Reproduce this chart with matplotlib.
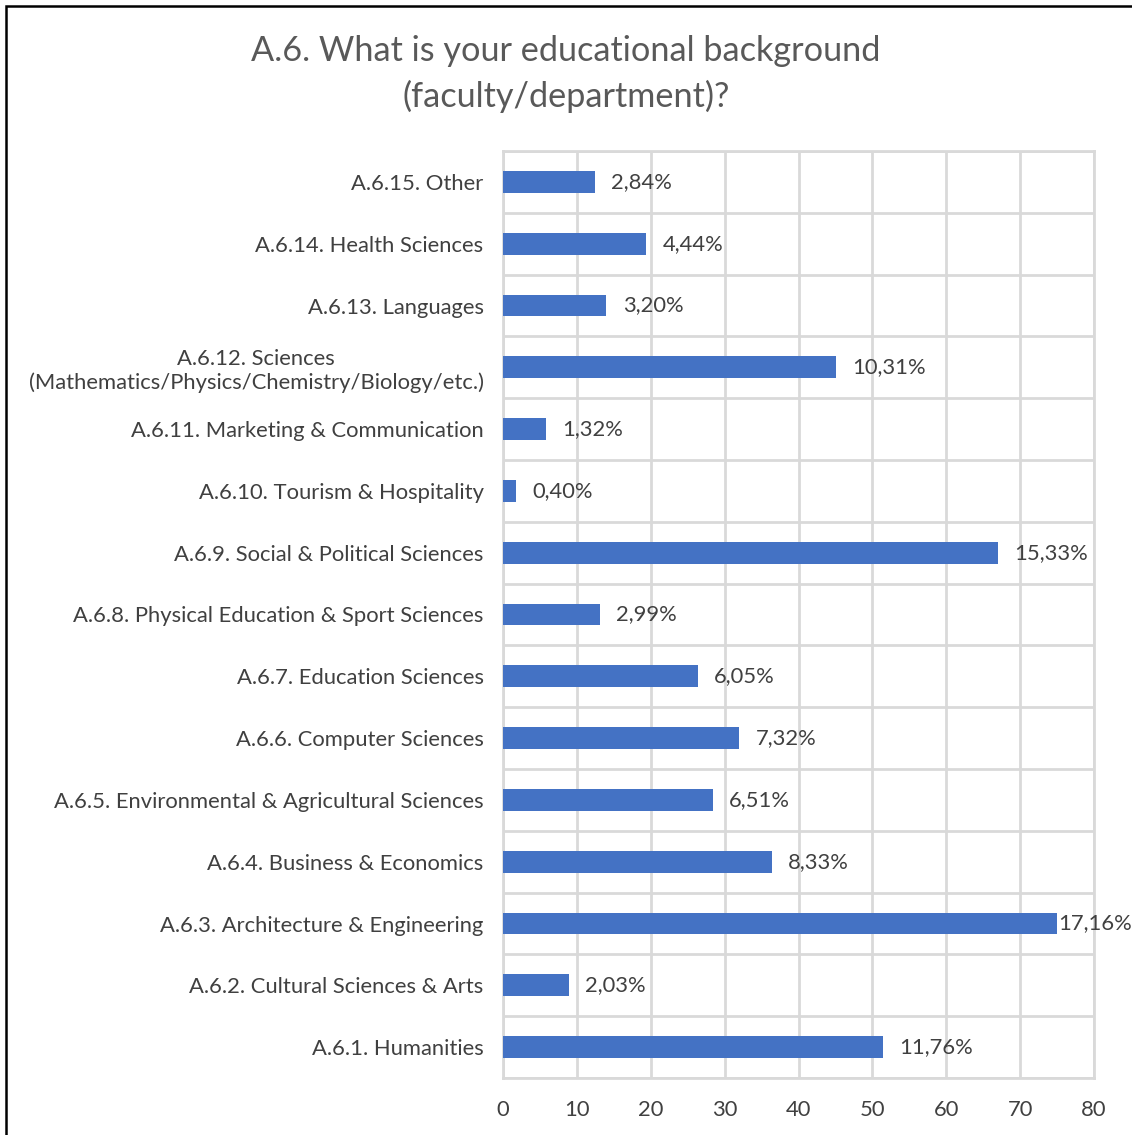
import matplotlib.pyplot as plt
import numpy as np
from matplotlib.patches import Rectangle

categories = [
    "A.6.1. Humanities",
    "A.6.2. Cultural Sciences & Arts",
    "A.6.3. Architecture & Engineering",
    "A.6.4. Business & Economics",
    "A.6.5. Environmental & Agricultural Sciences",
    "A.6.6. Computer Sciences",
    "A.6.7. Education Sciences",
    "A.6.8. Physical Education & Sport Sciences",
    "A.6.9. Social & Political Sciences",
    "A.6.10. Tourism & Hospitality",
    "A.6.11. Marketing & Communication",
    "A.6.12. Sciences\n(Mathematics/Physics/Chemistry/Biology/etc.)",
    "A.6.13. Languages",
    "A.6.14. Health Sciences",
    "A.6.15. Other",
]
counts = [51.4, 8.9, 75.0, 36.4, 28.4, 32.0, 26.4, 13.1, 67.0, 1.75, 5.8, 45.1, 14.0, 19.4, 12.4]
pct_labels = ["11,76%", "2,03%", "17,16%", "8,33%", "6,51%", "7,32%", "6,05%", "2,99%",
              "15,33%", "0,40%", "1,32%", "10,31%", "3,20%", "4,44%", "2,84%"]

plt.rcParams["font.family"] = ["Lato", "DejaVu Sans"]
text_col = "#404040"
grid_col = "#d9d9d9"
fs = 15.8

fig = plt.figure(figsize=(11.32, 11.35), dpi=100)
ax = fig.add_axes([503 / 1132, 1 - 1078 / 1135, 591 / 1132, 927 / 1135])

y = np.arange(len(categories))
ax.barh(y, counts, height=0.35, color="#4472C4", zorder=3)

for yi, v, lab in zip(y, counts, pct_labels):
    # Excel squeezes the last label against the bar when it runs out of room
    off = 0.2 if v > 70 else 2.2
    ax.text(v + off, yi, lab, va="center", ha="left", fontsize=fs, color=text_col, zorder=4)

ax.set_xlim(0, 80)
ax.set_ylim(-0.5, len(categories) - 0.5)
ax.set_xticks(np.arange(0, 81, 10))
ax.set_yticks(y)
ax.set_yticklabels(categories, fontsize=fs, color=text_col, ha="right", multialignment="center")
ax.set_yticks(np.arange(-0.5, len(categories), 1), minor=True)
ax.tick_params(axis="y", which="both", length=0, pad=14)
ax.tick_params(axis="x", length=0, labelsize=fs, labelcolor=text_col, pad=16)
ax.grid(axis="x", which="major", color=grid_col, linewidth=2, zorder=0)
ax.grid(axis="y", which="minor", color=grid_col, linewidth=2, zorder=0)
for s in ax.spines.values():
    s.set_color(grid_col)
    s.set_linewidth(2)

fig.text(0.5, 1 - 74 / 1135, "A.6. What is your educational background\n(faculty/department)?",
         ha="center", va="center", fontsize=24.7, color="#595959", linespacing=1.45)

fig.patches.append(Rectangle((6 / 1132, -0.1), 1.2, (1135 - 6) / 1135 + 0.1,
                             transform=fig.transFigure, fill=False,
                             edgecolor="black", linewidth=1.8))

fig.savefig("out.png", dpi=100)
